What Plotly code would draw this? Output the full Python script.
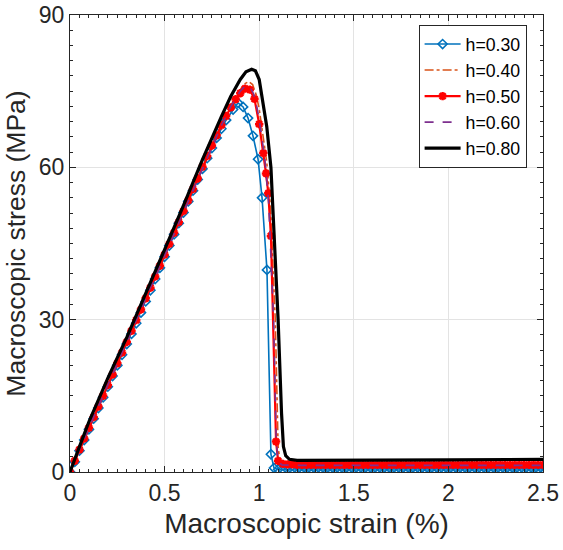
import plotly.graph_objects as go

# ---------------- data ----------------
labels = ["h=0.30", "h=0.40", "h=0.50", "h=0.60", "h=0.80"]

rise_x = [0, 0.025, 0.05, 0.075, 0.1, 0.125, 0.15, 0.175, 0.2, 0.225, 0.25, 0.275,
          0.3, 0.325, 0.35, 0.375, 0.4, 0.425, 0.45, 0.475, 0.5, 0.525, 0.55, 0.575,
          0.6, 0.625, 0.65, 0.675, 0.7, 0.725, 0.75, 0.775, 0.8, 0.825, 0.85, 0.875]

plateau_x = [1.125, 1.15, 1.175, 1.2, 1.225, 1.25, 1.275, 1.3, 1.325, 1.35, 1.375,
             1.4, 1.425, 1.45, 1.475, 1.5, 1.525, 1.55, 1.575, 1.6, 1.625, 1.65, 1.675,
             1.7, 1.725, 1.75, 1.775, 1.8, 1.825, 1.85, 1.875, 1.9, 1.925, 1.95, 1.975,
             2.0, 2.025, 2.05, 2.075, 2.1, 2.125, 2.15, 2.175, 2.2, 2.225, 2.25, 2.275,
             2.3, 2.325, 2.35, 2.375, 2.4, 2.425, 2.45, 2.475, 2.5]

# h=0.30 (blue, diamonds)
h30_rise = [0, 2.0, 4.2, 6.3, 8.4, 10.5, 12.6, 14.7, 16.8, 18.9, 21.0, 23.1, 25.2, 27.2,
            29.3, 31.4, 33.6, 35.8, 38.0, 40.2, 42.4, 44.6, 46.8, 49.0, 51.1, 53.3, 55.4,
            57.6, 59.7, 61.8, 63.8, 65.8, 67.6, 69.3]
h30_peak_x = [0.862, 0.888, 0.915, 0.941, 0.967, 0.994, 1.015, 1.041, 1.062, 1.078, 1.1]
h30_peak_y = [71.4, 72.7, 71.9, 69.7, 66.2, 61.6, 54.0, 39.8, 3.5, 0.8, 0.5]
h30_plateau = [0.45, 0.42, 0.4, 0.4, 0.4, 0.4, 0.4, 0.4, 0.4, 0.4, 0.4, 0.4, 0.4, 0.4,
               0.4, 0.4, 0.4, 0.4, 0.4, 0.4, 0.4, 0.4, 0.4, 0.4, 0.4, 0.4, 0.4, 0.4,
               0.4, 0.4, 0.4, 0.4, 0.4, 0.4, 0.4, 0.4, 0.4, 0.4, 0.4, 0.4, 0.4, 0.4,
               0.4, 0.4, 0.4, 0.4, 0.4, 0.4, 0.4, 0.4, 0.4, 0.4, 0.4, 0.4, 0.4, 0.4]

# h=0.40 (orange, dash-dot)
h40_x = [0, 0.05, 0.1, 0.2, 0.3, 0.4, 0.5, 0.6, 0.7, 0.8, 0.85, 0.9, 0.925, 0.945, 0.965,
         0.985, 1.0, 1.02, 1.04, 1.06, 1.085, 1.1, 1.11, 1.13, 1.2, 1.5, 2.0, 2.5]
h40_y = [0, 4.4, 8.8, 17.2, 25.7, 34.3, 42.9, 51.5, 60.0, 68.4, 72.2, 75.3, 76.5, 76.9,
         76.3, 74.2, 71.5, 66.5, 61.0, 52.0, 30.0, 5.0, 2.0, 1.7, 1.6, 1.6, 1.6, 1.7]

# h=0.50 (red, asterisks)
h50_rise = [0, 2.2, 4.4, 6.6, 8.7, 10.8, 12.9, 15.0, 17.1, 19.2, 21.4, 23.5, 25.6, 27.8,
            29.9, 32.0, 34.2, 36.3, 38.5, 40.6, 42.8, 44.9, 47.1, 49.2, 51.4, 53.5, 55.7,
            57.8, 60.1, 62.2, 64.3, 66.3, 68.3, 70.1, 71.8, 73.4]
h50_peak_x = [0.9, 0.925, 0.95, 0.975, 1.0, 1.022, 1.036, 1.048, 1.062, 1.089, 1.1]
h50_peak_y = [74.6, 75.5, 75.3, 73.5, 68.5, 62.8, 58.8, 54.9, 46.5, 6.0, 2.2]
h50_plateau = [1.6, 1.5, 1.5, 1.4, 1.4, 1.4, 1.4, 1.4, 1.4, 1.4, 1.4, 1.4, 1.4, 1.4,
               1.4, 1.4, 1.4, 1.4, 1.4, 1.4, 1.4, 1.4, 1.4, 1.4, 1.4, 1.4, 1.4, 1.4,
               1.4, 1.4, 1.4, 1.4, 1.4, 1.4, 1.4, 1.4, 1.4, 1.4, 1.4, 1.4, 1.4, 1.4,
               1.4, 1.4, 1.4, 1.4, 1.4, 1.4, 1.4, 1.4, 1.4, 1.4, 1.4, 1.4, 1.4, 1.4]

# h=0.60 (purple, dashed)
h60_x = [0, 0.05, 0.1, 0.2, 0.3, 0.4, 0.5, 0.6, 0.7, 0.8, 0.85, 0.9, 0.93, 0.95, 0.97,
         0.99, 1.01, 1.03, 1.05, 1.076, 1.09, 1.1, 1.12, 1.2, 1.5, 2.0, 2.5]
h60_y = [0, 4.4, 8.7, 17.1, 25.6, 34.2, 42.8, 51.4, 59.9, 68.2, 72.0, 75.0, 76.2, 75.9,
         74.5, 71.5, 67.0, 61.5, 53.0, 30.0, 6.0, 2.0, 1.4, 1.3, 1.3, 1.3, 1.3]

# h=0.80 (black, solid)
h80_x = [0, 0.025, 0.05, 0.1, 0.2, 0.3, 0.4, 0.5, 0.6, 0.7, 0.8, 0.85, 0.9, 0.93, 0.96,
         0.98, 1.0, 1.02, 1.04, 1.062, 1.08, 1.1, 1.118, 1.128, 1.14, 1.16, 1.2, 1.5,
         2.0, 2.5]
h80_y = [0, 2.6, 5.0, 9.9, 18.5, 26.5, 35.0, 43.8, 52.5, 61.5, 70.0, 74.0, 77.3, 78.8,
         79.3, 79.0, 77.3, 73.0, 68.0, 60.0, 47.0, 30.0, 11.6, 5.0, 3.2, 2.5, 2.3, 2.3,
         2.4, 2.5]

x_ticks = [0, 0.5, 1, 1.5, 2, 2.5]
x_ticktext = ["0", "0.5", "1", "1.5", "2", "2.5"]
y_ticks = [0, 30, 60, 90]
y_ticktext = ["0", "30", "60", "90"]

# ---------------- figure ----------------
FONT = "Arial, Liberation Sans, sans-serif"
fig = go.Figure()

fig.add_trace(go.Scatter(
    x=rise_x[:34] + h30_peak_x + plateau_x,
    y=h30_rise + h30_peak_y + h30_plateau,
    name=labels[0], mode="lines+markers",
    line=dict(color="#0072BD", width=1.6),
    marker=dict(symbol="diamond-open", size=7, color="#0072BD",
                line=dict(width=1.6, color="#0072BD")),
))
fig.add_trace(go.Scatter(
    x=h40_x, y=h40_y, name=labels[1], mode="lines",
    line=dict(color="#D95319", width=1.6, dash="dashdot"),
))
fig.add_trace(go.Scatter(
    x=rise_x + h50_peak_x + plateau_x,
    y=h50_rise + h50_peak_y + h50_plateau,
    name=labels[2], mode="lines+markers",
    line=dict(color="#FF0000", width=2.2),
    marker=dict(symbol="asterisk-open", size=7, color="#FF0000",
                line=dict(width=2.5, color="#FF0000")),
))
fig.add_trace(go.Scatter(
    x=h60_x, y=h60_y, name=labels[3], mode="lines",
    line=dict(color="#7E2F8E", width=1.6, dash="dash"),
))
fig.add_trace(go.Scatter(
    x=h80_x, y=h80_y, name=labels[4], mode="lines",
    line=dict(color="#000000", width=3.2),
))

axis_common = dict(
    showline=True, linecolor="#262626", linewidth=1, mirror="allticks",
    ticks="inside", ticklen=6, tickcolor="#262626", tickwidth=1,
    showgrid=True, gridcolor="#E3E3E3", gridwidth=1,
    zeroline=False, automargin=False,
    tickfont=dict(family=FONT, size=23, color="#262626"),
)

fig.update_layout(
    width=563, height=550,
    margin=dict(l=69.5, r=19.5, t=15, b=78),
    plot_bgcolor="white", paper_bgcolor="white",
    font=dict(family=FONT, color="#262626"),
    showlegend=True,
    legend=dict(
        x=0.737, y=0.978, xanchor="left", yanchor="top",
        bgcolor="white", bordercolor="#262626", borderwidth=1,
        font=dict(family=FONT, size=17.7, color="#000000"),
        itemwidth=36, tracegroupgap=0,
    ),
    xaxis=dict(
        range=[0, 2.5], tickvals=x_ticks, ticktext=x_ticktext,
        minor=dict(ticks="inside", dtick=0.05, ticklen=3, tickcolor="#262626",
                   showgrid=False),
        title=dict(text="Macroscopic strain (%)", standoff=8,
                   font=dict(family=FONT, size=28, color="#262626")),
        **axis_common,
    ),
    yaxis=dict(
        range=[0, 90], tickvals=y_ticks, ticktext=y_ticktext,
        minor=dict(ticks="inside", dtick=3, ticklen=3, tickcolor="#262626",
                   showgrid=False),
        title=dict(text="Macroscopic stress (MPa)", standoff=5,
                   font=dict(family=FONT, size=26.5, color="#262626")),
        **axis_common,
    ),
)

# remove the default 8 px page margin so the figure fills the window exactly
fig.write_html("out.html",
               config={"displayModeBar": False},
               post_script="document.body.style.margin='0';document.body.style.overflow='hidden';")
